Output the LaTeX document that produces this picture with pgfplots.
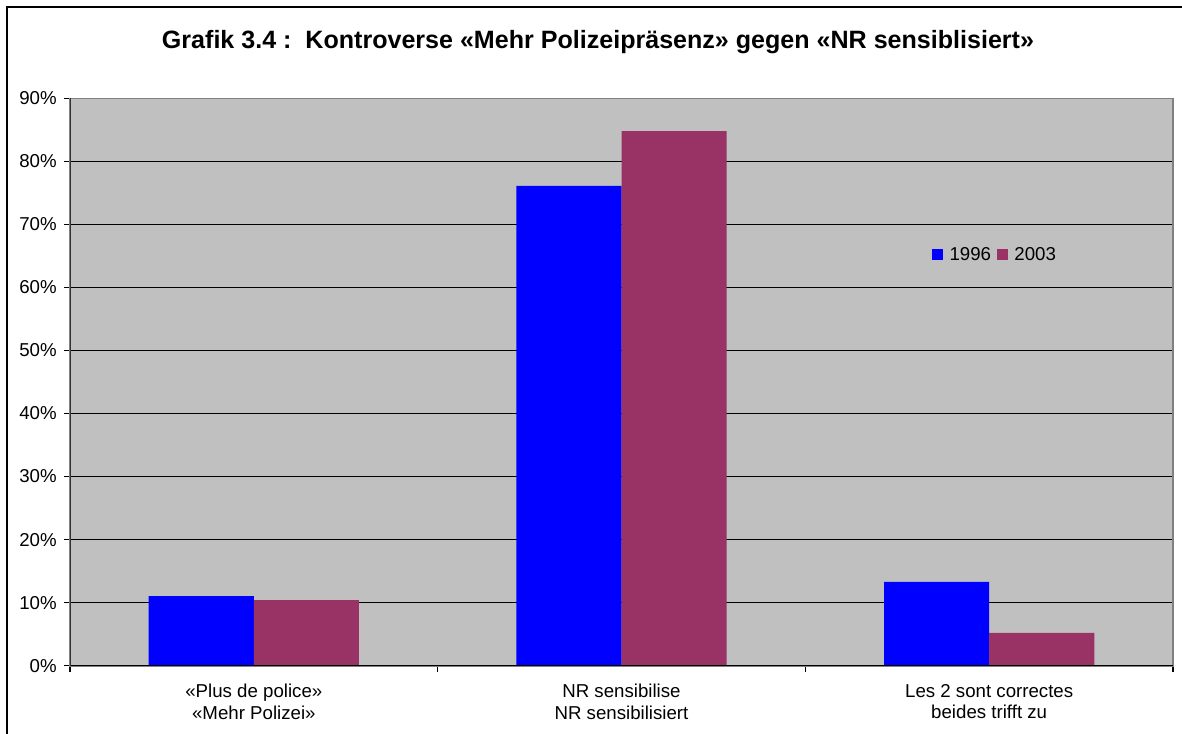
\documentclass[border=0pt]{standalone}
\usepackage{pgfplots}
\pgfplotsset{compat=1.18}
\usepackage{fontspec}
\setmainfont{Liberation Sans}
\definecolor{cblue}{HTML}{0000FF}
\definecolor{cpurple}{HTML}{993366}
\definecolor{plotbg}{HTML}{C0C0C0}
\definecolor{bordergray}{HTML}{808080}
\begin{document}
\begin{tikzpicture}
\useasboundingbox (0pt,0pt) rectangle (886.5pt,549.75pt);
\begin{scope}
\clip (0pt,0pt) rectangle (886.5pt,549.75pt);
\draw[line width=1.5pt] (5.25pt,-15pt) -- (5.25pt,544.5pt) -- (900pt,544.5pt);
\end{scope}
\node[font=\fontsize{18.8}{22}\selectfont\bfseries, anchor=base] at (448.5pt,513pt) {Grafik 3.4 :\ \ Kontroverse «Mehr Polizeipräsenz» gegen «NR sensiblisiert»};
\begin{axis}[
  at={(52.5pt,50.475pt)}, anchor=south west,
  scale only axis,
  width=827.25pt, height=425.55pt,
  xmin=-0.5, xmax=2.5, ymin=0, ymax=90,
  ybar=0pt, bar width=0.286,
  axis background/.style={fill=plotbg},
  axis line style={draw=bordergray, line width=1.2pt},
  ytick={0,10,...,90},
  yticklabel={\pgfmathprintnumber{\tick}\%},
  ymajorgrids,
  major grid style={black, line width=0.8pt},
  xtick={0,1,2},
  xticklabels={{«Plus de police»\\«Mehr Polizei»},{NR sensibilise\\NR sensibilisiert},{Les 2 sont correctes\\beides trifft zu}},
  xticklabel style={align=center, font=\fontsize{14}{16}\selectfont, yshift=-6pt},
  yticklabel style={font=\fontsize{14}{16}\selectfont, xshift=-2pt},
  /pgf/number format/assume math mode=true,
  major x tick style={draw=none},
  minor xtick={-0.5,0.5,1.5,2.5},
  tick pos=left,
  tick align=outside,
  major tick length=4.5pt, minor tick length=4.5pt,
  tick style={black, line width=0.8pt},
  legend style={draw=none, fill=none, at={(0.7815,0.7247)}, anchor=west, inner sep=0pt,
    font=\fontsize{14}{16}\selectfont, legend columns=2,
    /tikz/every even column/.append style={column sep=2.5pt}},
  legend image code/.code={\fill[#1] (0pt,-4.1pt) rectangle (8.25pt,4.1pt); \path (11pt,0pt);},
]
\addplot[fill=cblue, draw=none] coordinates {(0,11.05) (1,76.1) (2,13.3)};
\addplot[fill=cpurple, draw=none] coordinates {(0,10.4) (1,84.8) (2,5.2)};
\legend{1996,2003}
\draw[black, line width=1.2pt] (rel axis cs:0,0) -- (rel axis cs:1,0);
\draw[black!80, line width=1.2pt] (rel axis cs:0,0) -- (rel axis cs:0,1);
\end{axis}
\end{tikzpicture}
\end{document}
